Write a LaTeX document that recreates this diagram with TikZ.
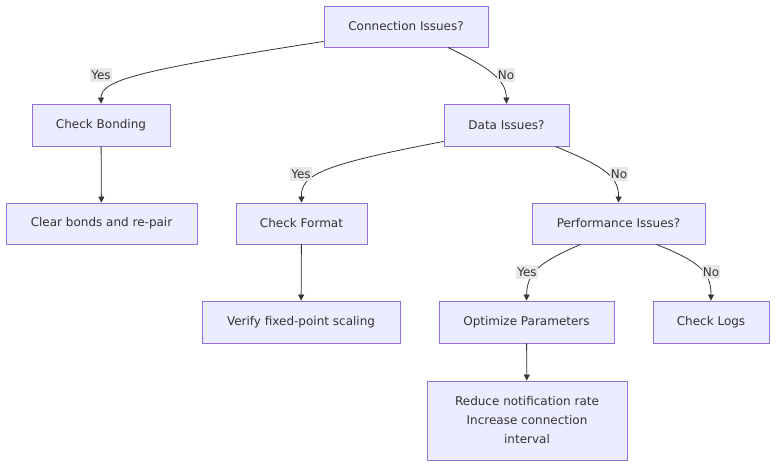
\documentclass[tikz,border=0pt]{standalone}
\usepackage{fontspec}
\setmainfont{DejaVu Sans}
\usetikzlibrary{arrows.meta,calc}
\definecolor{nodefill}{HTML}{ECECFF}
\definecolor{nodeline}{HTML}{9370DB}
\definecolor{txt}{HTML}{333333}
\definecolor{lblbg}{HTML}{E8E8E8}
\begin{document}
\begin{tikzpicture}[x=1bp,y=-1bp,
  box/.style={draw=nodeline,fill=nodefill,line width=0.9bp,inner sep=0pt,text=txt,font=\fontsize{12bp}{19bp}\selectfont,align=center},
  lbl/.style={fill=lblbg,text=txt,inner xsep=1bp,inner ysep=2.5bp,font=\fontsize{12bp}{14bp}\selectfont},
  edge/.style={draw=txt,line width=0.8bp,-{Triangle[length=6bp,width=6bp]}}]
\useasboundingbox (0,0) rectangle (784,472);
\node[box,minimum width=164bp,minimum height=41bp] (conn) at (406,26.5) {Connection Issues?};
\node[box,minimum width=138bp,minimum height=42bp] (bond) at (101,125) {Check Bonding};
\node[box,minimum width=125bp,minimum height=42bp] (data) at (506.5,125) {Data Issues?};
\node[box,minimum width=191bp,minimum height=41bp] (clear) at (101.5,223.5) {Clear bonds and re-pair};
\node[box,minimum width=131bp,minimum height=41bp] (fmt) at (301.5,223.5) {Check Format};
\node[box,minimum width=173bp,minimum height=41bp] (perf) at (618.5,223.5) {Performance Issues?};
\node[box,minimum width=198bp,minimum height=42bp] (verify) at (301,322) {Verify fixed-point scaling};
\node[box,minimum width=175bp,minimum height=42bp] (opt) at (526.5,322) {Optimize Parameters};
\node[box,minimum width=116bp,minimum height=42bp] (logs) at (711,322) {Check Logs};
\node[box,minimum width=200bp,minimum height=79bp] (reduce) at (527,420.5) {Reduce notification rate\\Increase connection\\interval};

\draw[edge] ([yshift=6bp]conn.south west) .. controls (140,70) and (101,80) .. (bond.north);
\draw[edge] ([xshift=42bp]conn.south) .. controls (490,68) and (506,80) .. (data.north);
\draw[edge] (bond) -- (clear);
\draw[edge] ([yshift=5bp]data.south west) .. controls (320,165) and (301,175) .. (fmt.north);
\draw[edge] ([xshift=-14bp]data.south east) .. controls (600,165) and (619,175) .. (perf.north);
\draw[edge] (fmt) -- (verify);
\draw[edge] ([xshift=-38bp]perf.south) .. controls (540,262) and (527,272) .. (opt.north);
\draw[edge] ([xshift=38bp]perf.south) .. controls (700,262) and (711,272) .. (logs.north);
\draw[edge] (opt) -- (reduce);

\node[lbl] (l1) at (101,75) {Yes};
\node[lbl] (l2) at (506,75) {No};
\node[lbl] (l3) at (301,174) {Yes};
\node[lbl] (l4) at (619,174) {No};
\node[lbl] (l5) at (527,272) {Yes};
\node[lbl] (l6) at (711,272) {No};
\end{tikzpicture}
\end{document}
